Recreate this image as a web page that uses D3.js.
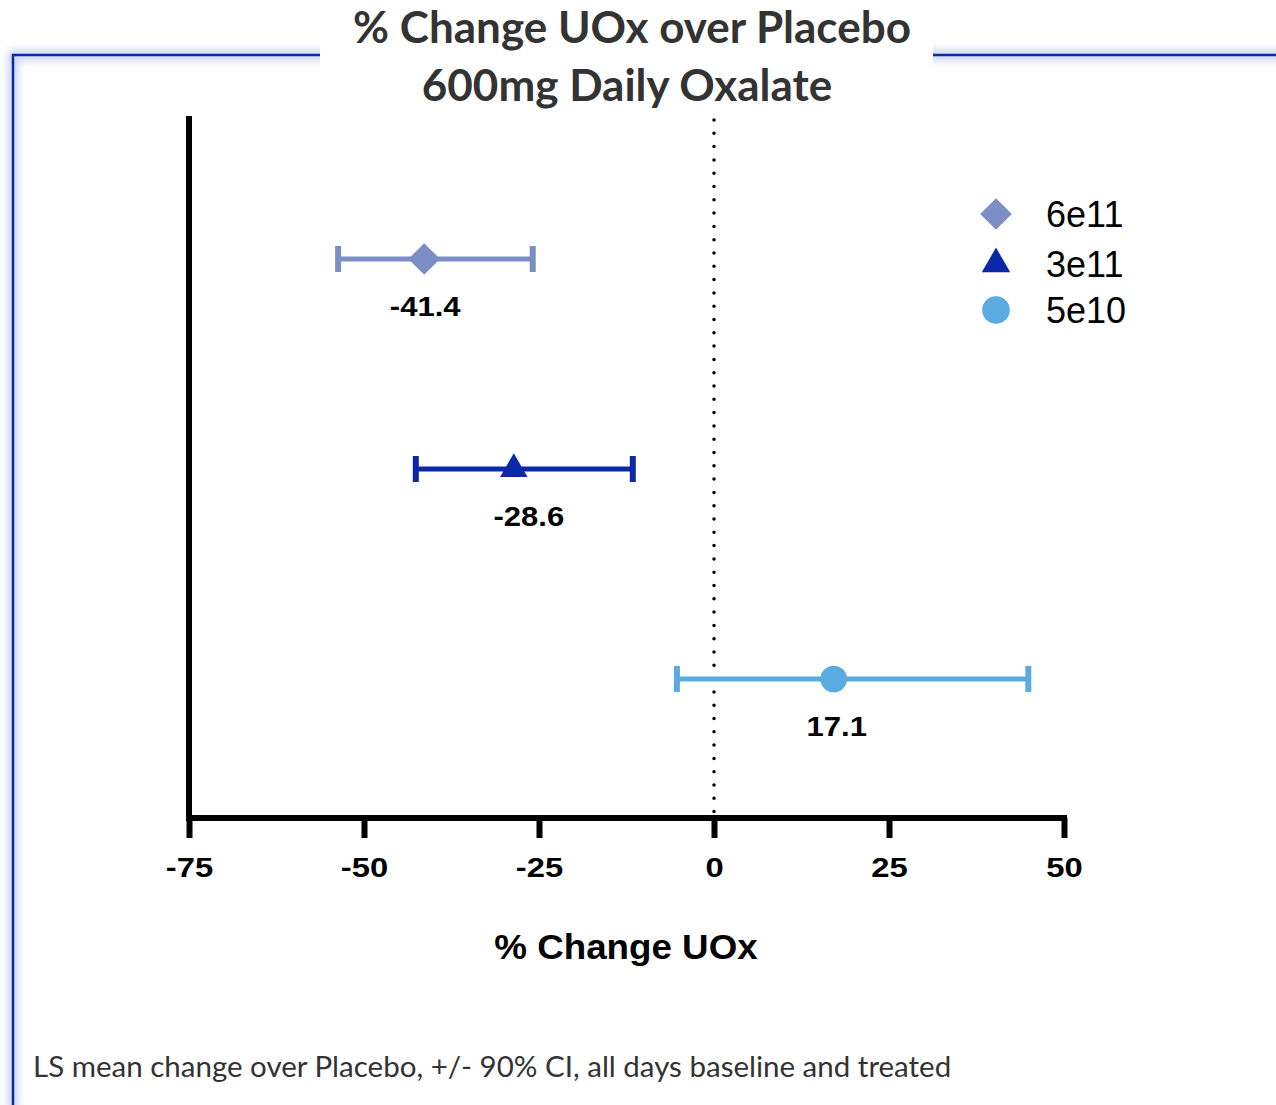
<!DOCTYPE html>
<html>
<head>
<meta charset="utf-8">
<script src="https://cdn.jsdelivr.net/npm/d3@7"></script>
<style>
  html, body { margin: 0; padding: 0; background: #fff; }
  svg { display: block; }
</style>
</head>
<body>
<svg id="chart"></svg>
<script>
// doses, top to bottom
const doses = ["6e11", "3e11", "5e10"];
const means = [-41.4, -28.6, 17.1];
const ciLow = [-53.7, -42.6, -5.3];
const ciHigh = [-25.9, -11.6, 44.9];
const colors = ["#7b8fc4", "#0a28a8", "#59abe1"];
const shapes = ["diamond", "triangle", "circle"];
const xTicks = [-75, -50, -25, 0, 25, 50];

const width = 1276;
const height = 1105;

const svg = d3.select('#chart')
    .attr('width', width)
    .attr('height', height);

const symbolOf = {
  diamond: d3.symbolDiamond2,
  triangle: d3.symbolTriangle2,
  circle: d3.symbolCircle
};

// the original figure is stretched sideways a bit, so some text gets a scaleX
function stretched(sel, sx) {
  sel.each(function() {
    const t = d3.select(this);
    const cx = +t.attr('x') || 0;
    t.attr('transform', 'translate(' + cx + ',0) scale(' + sx + ',1) translate(' + (-cx) + ',0)');
  });
}

// frame with a soft glow on the outside
const defs = svg.append('defs');
defs.append('filter').attr('id', 'glow')
  .attr('x', '-5%').attr('y', '-5%').attr('width', '110%').attr('height', '110%')
  .append('feGaussianBlur').attr('stdDeviation', 4);

const framePath = 'M13,1110 L13,55 L1290,55';
svg.append('path')
  .attr('d', framePath)
  .attr('fill', 'none')
  .attr('stroke', '#c9d3f2')
  .attr('stroke-width', 10)
  .attr('filter', 'url(#glow)');
svg.append('path')
  .attr('d', framePath)
  .attr('fill', 'none')
  .attr('stroke', '#0a2aa8')
  .attr('stroke-width', 2.5);

// title box breaks the frame
svg.append('rect')
  .attr('x', 320).attr('y', 0)
  .attr('width', 613).attr('height', 110)
  .attr('fill', '#fff');

const title = svg.append('text')
  .attr('text-anchor', 'middle')
  .style('font-family', 'Lato, "Open Sans", sans-serif')
  .style('font-weight', 'bold')
  .style('font-size', '44px')
  .attr('fill', '#333');
title.append('tspan').attr('x', 632).attr('y', 43).text('% Change UOx over Placebo');
title.append('tspan').attr('x', 627).attr('y', 101).text('600mg Daily Oxalate');

// scales
const x = d3.scaleLinear()
  .domain([-75, 50])
  .range([189, 1064]);

const y = d3.scalePoint()
  .domain(doses)
  .range([124, 814])
  .padding(0.643);

const axisY = 818;

// dotted zero line
svg.append('line')
  .attr('x1', x(0)).attr('x2', x(0))
  .attr('y1', 120).attr('y2', axisY)
  .attr('stroke', '#000')
  .attr('stroke-width', 3.5)
  .attr('stroke-linecap', 'round')
  .attr('stroke-dasharray', '0 13.3');

// y axis (bare line)
svg.append('line')
  .attr('x1', x(-75)).attr('x2', x(-75))
  .attr('y1', 116).attr('y2', axisY + 3)
  .attr('stroke', '#000')
  .attr('stroke-width', 6);

// x axis
const xAxis = svg.append('g')
  .attr('transform', 'translate(0,' + axisY + ')')
  .call(d3.axisBottom(x)
    .tickValues(xTicks)
    .tickFormat(d => String(d))
    .tickSize(20).tickSizeOuter(0).tickPadding(19));

xAxis.select('.domain')
  .attr('stroke', '#000')
  .attr('stroke-width', 6)
  .attr('d', 'M' + (x(-75) - 3) + ',0H' + (x(50) + 3));
xAxis.selectAll('.tick line')
  .attr('stroke', '#000')
  .attr('stroke-width', 6);
xAxis.selectAll('.tick text')
  .attr('fill', '#000')
  .attr('transform', 'scale(1.17,1)')
  .style('font-family', '"Liberation Sans", Arial, sans-serif')
  .style('font-weight', 'bold')
  .style('font-size', '28px');

const xTitle = svg.append('text')
  .attr('x', 626).attr('y', 959)
  .attr('text-anchor', 'middle')
  .style('font-family', '"Liberation Sans", Arial, sans-serif')
  .style('font-weight', 'bold')
  .style('font-size', '35px')
  .text('% Change UOx');
stretched(xTitle, 1.05);

// error bars
const rows = doses.map((d, i) => ({
  dose: d, mean: means[i], lo: ciLow[i], hi: ciHigh[i],
  color: colors[i], shape: shapes[i]
}));

const capHalf = 13;
const row = svg.selectAll('.row')
  .data(rows)
  .enter().append('g')
    .attr('class', 'row')
    .attr('transform', d => 'translate(0,' + y(d.dose) + ')');

row.append('line')
  .attr('x1', d => x(d.lo)).attr('x2', d => x(d.hi))
  .attr('stroke', d => d.color)
  .attr('stroke-width', 5);

row.selectAll('.cap')
  .data(d => [d.lo, d.hi].map(v => ({ v: v, color: d.color })))
  .enter().append('line')
    .attr('class', 'cap')
    .attr('x1', c => x(c.v)).attr('x2', c => x(c.v))
    .attr('y1', -capHalf).attr('y2', capHalf)
    .attr('stroke', c => c.color)
    .attr('stroke-width', 6);

row.append('path')
  .attr('transform', d => 'translate(' + x(d.mean) + ',0)')
  .attr('d', d => d3.symbol().type(symbolOf[d.shape]).size(d.shape === 'circle' ? 560 : d.shape === 'diamond' ? 640 : 540)())
  .attr('fill', d => d.color);

// value labels under each point; the middle one sits a little right in the original
const labelNudge = [1, 15, 3];
const valueLabels = row.append('text')
  .attr('x', (d, i) => x(d.mean) + labelNudge[i])
  .attr('y', 57)
  .attr('text-anchor', 'middle')
  .style('font-family', '"Liberation Sans", Arial, sans-serif')
  .style('font-weight', 'bold')
  .style('font-size', '27px')
  .text(d => d.mean.toFixed(1));
stretched(valueLabels, 1.15);

// legend
const legend = svg.selectAll('.legend')
  .data(rows)
  .enter().append('g')
    .attr('class', 'legend')
    .attr('transform', (d, i) => 'translate(996,' + [214, 264, 310][i] + ')');

legend.append('path')
  .attr('d', d => d3.symbol().type(symbolOf[d.shape]).size(d.shape === 'circle' ? 600 : d.shape === 'diamond' ? 640 : 580)())
  .attr('fill', d => d.color);

legend.append('text')
  .attr('x', 50)
  .attr('y', 13)
  .style('font-family', '"Liberation Sans", Arial, sans-serif')
  .style('font-size', '36px')
  .attr('fill', '#000')
  .text(d => d.dose);

// footnote
svg.append('text')
  .attr('x', 33).attr('y', 1077)
  .style('font-family', 'Lato, "Open Sans", sans-serif')
  .style('font-size', '29.5px')
  .attr('fill', '#333')
  .text('LS mean change over Placebo, +/- 90% CI, all days baseline and treated');
</script>
</body>
</html>
